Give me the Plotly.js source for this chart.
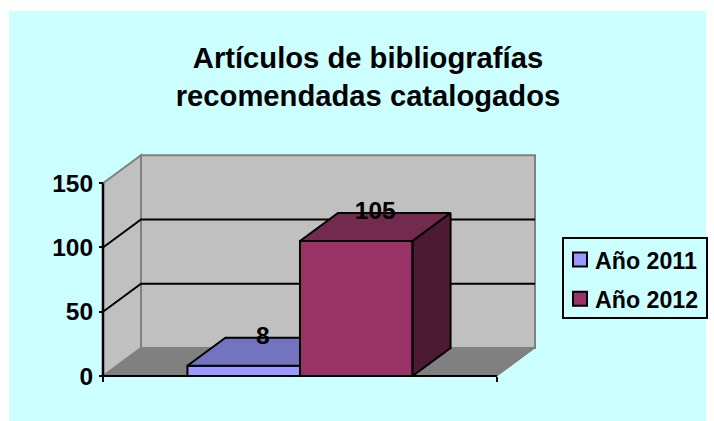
<!DOCTYPE html>
<html>
<head>
<meta charset="utf-8">
<script src="https://cdn.plot.ly/plotly-3.0.1.min.js"></script>
<style>html,body{margin:0;padding:0;background:#fff}</style>
</head>
<body>
<div id="chart" style="width:714px;height:421px"></div>
<script>
// ---- data ----
const seriesNames = ['Año 2011', 'Año 2012'];
const seriesValues = [8, 105];
const frontColors = ['#9999FF', '#993366'];
const topColors = ['#7373BF', '#732B4D'];
const sideColors = ['#4D4D80', '#4D1A33'];
const yTicks = [0, 50, 100, 150];
const gridValues = [50, 100];
const titleText = 'Artículos de bibliografías<br>recomendadas catalogados';

// ---- pseudo-3D geometry, in axis units ----
const W = 714, H = 421;
const plotL = 98, plotR = 537, plotT = 153, plotB = 381;
const pxPerX = 394, pxPerY = 1.2853;
const originPx = [103, 376];
const depthX = 38 / pxPerX, depthY = 28 / pxPerY;
const yMax = 150;
const barWidth = 1 / 3.5, gapSide = 0.75 * barWidth;
const pw = plotR - plotL, ph = plotB - plotT;
const paperX = px => (px - plotL) / pw;
const paperY = py => (plotB - py) / ph;

const poly = (xs, ys, fill, line, width, layer) => ({
  type: 'path', xref: 'x', yref: 'y', layer: layer || 'below',
  path: xs.map((x, i) => (i ? 'L' : 'M') + x + ',' + ys[i]).join(' ') + (fill ? ' Z' : ''),
  fillcolor: fill || 'rgba(0,0,0,0)',
  line: {color: line, width: width}
});
const rect = (x0, y0, x1, y1, fill, line, width) => ({
  type: 'rect', xref: 'paper', yref: 'paper', layer: 'below',
  x0: paperX(x0), x1: paperX(x1), y0: paperY(y0), y1: paperY(y1),
  fillcolor: fill, line: {color: line, width: width}
});

const shapes = [
  rect(9, 11, 706, 422, '#CCFFFF', '#CCFFFF', 0),
  rect(563, 238, 707, 318, '#CCFFFF', '#000000', 2),
  // back wall
  poly([depthX, 1 + depthX, 1 + depthX, depthX], [depthY, depthY, yMax + depthY, yMax + depthY], '#C0C0C0', '#808080', 2),
  // side wall
  poly([0, depthX, depthX, 0], [0, depthY, yMax + depthY, yMax], '#C0C0C0', '#808080', 2),
  // floor
  poly([0, 1, 1 + depthX, depthX], [0, 0, depthY, depthY], '#808080', '#808080', 1)
];
gridValues.forEach(v => {
  shapes.push(poly([0, depthX, 1 + depthX], [v, v + depthY, v + depthY], null, '#000000', 2));
});
// front axis lines
shapes.push(poly([0, 0], [0, yMax], null, '#000000', 2.5));
shapes.push(poly([0, 1], [0, 0], null, '#000000', 2));

const traces = [];
const lefts = seriesValues.map((_, i) => gapSide + i * barWidth);

// front faces
seriesValues.forEach((v, i) => {
  traces.push({
    type: 'bar', name: seriesNames[i], x: [lefts[i] + barWidth / 2], y: [v], width: [barWidth],
    marker: {color: frontColors[i], line: {color: '#000000', width: 2}},
    legendgroup: 'g' + i, hoverinfo: 'name+y', cliponaxis: false
  });
});

// top and side faces
const face = (xs, ys, fill) => ({
  type: 'scatter', mode: 'lines', x: xs, y: ys, fill: 'toself', fillcolor: fill,
  line: {color: '#000000', width: 2}, showlegend: false, hoverinfo: 'skip', cliponaxis: false
});
seriesValues.forEach((v, i) => {
  const x0 = lefts[i], x1 = x0 + barWidth;
  const hiddenByNext = i + 1 < seriesValues.length && seriesValues[i + 1] >= v + depthY;
  if (hiddenByNext) {
    traces.push(face([x0, x1, x1, x0 + depthX, x0], [v, v, v + depthY, v + depthY, v], topColors[i]));
  } else {
    traces.push(face([x0, x1, x1 + depthX, x0 + depthX, x0], [v, v, v + depthY, v + depthY, v], topColors[i]));
    traces.push(face([x1, x1 + depthX, x1 + depthX, x1, x1], [0, depthY, v + depthY, v, 0], sideColors[i]));
  }
});

// value labels
traces.push({
  type: 'scatter', mode: 'text',
  x: lefts.map(l => l + barWidth / 2 + depthX / 2),
  y: seriesValues.map(v => v + depthY),
  text: seriesValues.map(String),
  textposition: 'middle center',
  textfont: {family: 'Liberation Sans, Arial, sans-serif', size: 24.5, color: '#000000'},
  texttemplate: '<b>%{text}</b>',
  showlegend: false, hoverinfo: 'skip', cliponaxis: false
});

const font = {family: 'Liberation Sans, Arial, sans-serif', color: '#000000'};
const layout = {
  width: W, height: H, autosize: false,
  paper_bgcolor: '#FFFFFF', plot_bgcolor: 'rgba(0,0,0,0)',
  margin: {l: plotL, r: W - plotR, t: plotT, b: H - plotB, pad: 0, autoexpand: false},
  barmode: 'overlay',
  title: {
    text: '<b>' + titleText.replace('<br>', '</b><br><b>') + '</b>',
    font: Object.assign({}, font, {size: 29.2}),
    x: 368 / W, xanchor: 'center', y: 1 - 68 / H, yanchor: 'middle'
  },
  xaxis: {
    range: [(plotL - originPx[0]) / pxPerX, (plotR - originPx[0]) / pxPerX],
    tickmode: 'array', tickvals: [0, 1], ticktext: ['', ''],
    ticks: 'outside', ticklen: 5, tickwidth: 2, tickcolor: '#000000',
    showgrid: false, zeroline: false, showline: false,
    anchor: 'free', position: paperY(originPx[1])
  },
  yaxis: {
    range: [(originPx[1] - plotB) / pxPerY, (originPx[1] - plotT) / pxPerY],
    tickmode: 'array', tickvals: yTicks,
    ticks: 'outside', ticklen: 4, tickwidth: 2, tickcolor: '#000000',
    tickfont: Object.assign({}, font, {size: 24.5, weight: 700}),
    ticklabelstandoff: 1,
    showgrid: false, zeroline: false, showline: false,
    anchor: 'free', position: paperX(originPx[0])
  },
  legend: {
    x: paperX(555), y: paperY(238), xanchor: 'left', yanchor: 'top',
    bgcolor: 'rgba(0,0,0,0)', borderwidth: 0,
    traceorder: 'grouped', tracegroupgap: 6,
    font: Object.assign({}, font, {size: 23.2, weight: 700})
  },
  shapes: shapes,
  showlegend: true
};
Plotly.newPlot('chart', traces, layout, {displayModeBar: false}).then(() => {
  // nudge the legend swatches to the reference's slot, next to their labels
  document.querySelectorAll('#chart .legend path.legendbar, #chart .legend .legendpoints path').forEach(p => {
    p.setAttribute('transform', 'translate(25,0)');
    p.setAttribute('d', 'M7,7H-7V-7H7Z');
  });
});
</script>
</body>
</html>
